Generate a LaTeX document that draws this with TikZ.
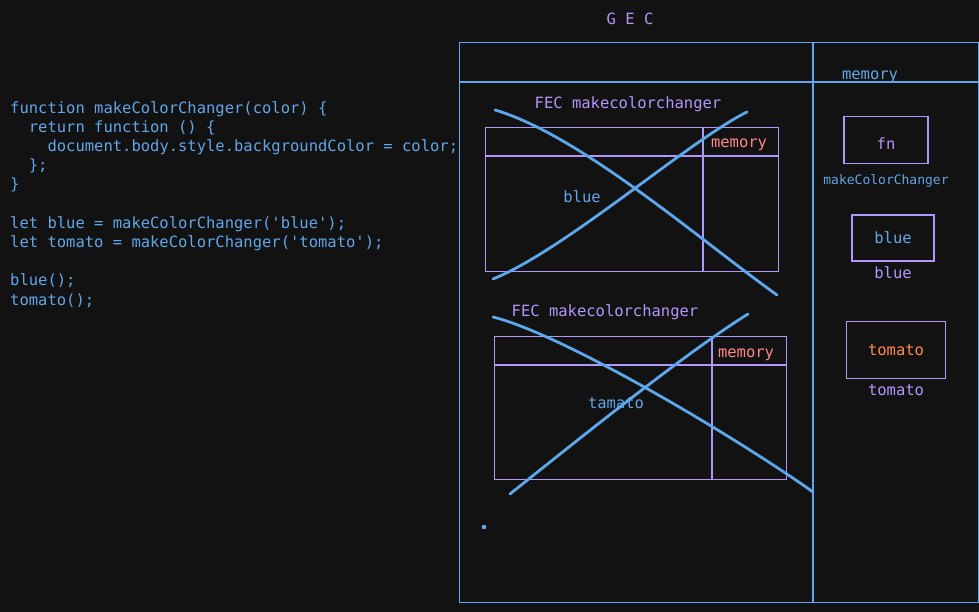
\documentclass[tikz,border=0pt]{standalone}
\usepackage{fontspec}
\setmonofont{DejaVu Sans Mono}
\usepackage{xcolor}
\usetikzlibrary{positioning}

\definecolor{bgdark}{HTML}{121212}
\definecolor{codeblue}{HTML}{62A6E8}
\definecolor{lilac}{HTML}{B197FC}
\definecolor{salmon}{HTML}{FF8787}
\definecolor{tomatored}{HTML}{FF8A4C}
\definecolor{strokeblue}{HTML}{5DA8EC}

\begin{document}
\begin{tikzpicture}[
  x=1pt, y=-1pt,
  code/.style={font=\ttfamily\fontsize{15.5}{19.2}\selectfont, text=codeblue,
    align=left, inner sep=0pt, anchor=north west},
  tag/.style={font=\ttfamily\fontsize{15.5}{18}\selectfont, inner sep=0pt},
  small/.style={font=\ttfamily\fontsize{13}{15}\selectfont, inner sep=0pt},
  gecline/.style={draw=strokeblue, line width=1.2pt},
  fecbox/.style={draw=lilac, line width=1.2pt, inner sep=0pt, anchor=north west},
  fecline/.style={draw=lilac, line width=1.2pt},
  membox/.style={draw=lilac, line width=1.2pt, inner sep=0pt,
    font=\ttfamily\fontsize{15.5}{18}\selectfont},
  cross/.style={draw=strokeblue, line width=2.8pt, line cap=round}
]
  % background and page size
  \fill[bgdark] (0,0) rectangle (979,612);
  \useasboundingbox (0,0) rectangle (979,612);

  % source code
  \node[code] (src) at (10,101) {function makeColorChanger(color) \{\\
\phantom{xx}return function () \{\\
\phantom{xxxx}document.body.style.backgroundColor = color;\\
\phantom{xx}\};\\
\}\\[19.2pt]
let blue = makeColorChanger('blue');\\
let tomato = makeColorChanger('tomato');\\[19.2pt]
blue();\\
tomato();};

  % global execution context
  \node[tag, text=lilac] (gectitle) at (630,19) {G E C};
  \node[draw=strokeblue, line width=1.2pt, inner sep=0pt, anchor=north west,
    minimum width=519, minimum height=560] (gec) at (459,42) {};
  \draw[gecline] (459,82) -- (978,82);
  \draw[gecline] (813,42) -- (813,602);
  \node[tag, text=codeblue] (gecmem) at (870,77) {memory};

  % first function execution context
  \node[tag, text=lilac] (fec1title) at (628,104) {FEC makecolorchanger};
  \node[fecbox, minimum width=293, minimum height=144] (fec1) at (485,127) {};
  \draw[fecline] (485,156) -- (778,156);
  \draw[fecline] (703,127) -- (703,271);
  \node[tag, text=salmon] (fec1mem) at (739,145) {memory};
  \node[tag, text=codeblue] (fec1val) at (582,197) {blue};

  % second function execution context
  \node[tag, text=lilac] (fec2title) at (605,312) {FEC makecolorchanger};
  \node[fecbox, minimum width=292, minimum height=143] (fec2) at (494,336) {};
  \draw[fecline] (494,365) -- (786,365);
  \draw[fecline] (712,336) -- (712,479);
  \node[tag, text=salmon] (fec2mem) at (746,355) {memory};
  \node[tag, text=codeblue] (fec2val) at (616,403) {tamato};

  % crossed out contexts
  \draw[cross] (495,110) .. controls (580,135) and (700,240) .. (777,295);
  \draw[cross] (493,279) .. controls (565,250) and (690,140) .. (747,112);
  \draw[cross] (493,317) .. controls (565,335) and (740,440) .. (813,492);
  \draw[cross] (510,494) .. controls (590,430) and (690,350) .. (748,314);
  \fill[strokeblue] (484,527) circle (2.3);

  % global memory
  \node[membox, text=lilac, text height=20pt, minimum width=84, minimum height=47] (fnbox) at (886,140) {fn};
  \node[small, text=codeblue, below=10pt of fnbox] (fnname) {makeColorChanger};
  \node[membox, text=codeblue, minimum width=82, minimum height=46] (bluebox) at (893,238) {blue};
  \node[tag, text=lilac, below=5pt of bluebox] (bluename) {blue};
  \node[membox, text=tomatored, minimum width=99, minimum height=57] (tomatobox) at (896,350) {tomato};
  \node[tag, text=lilac, below=5pt of tomatobox] (tomatoname) {tomato};
\end{tikzpicture}
\end{document}
